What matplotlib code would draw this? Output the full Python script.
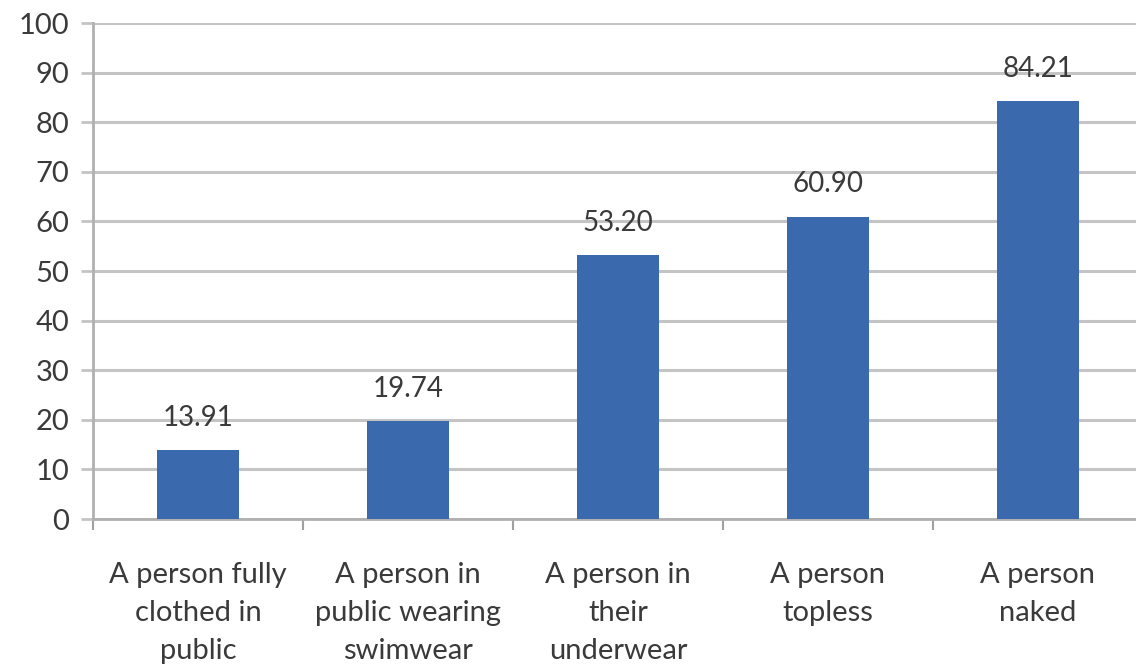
import matplotlib.pyplot as plt
from matplotlib.ticker import FixedLocator

categories = ['A person fully\nclothed in\npublic',
              'A person in\npublic wearing\nswimwear',
              'A person in\ntheir\nunderwear',
              'A person\ntopless',
              'A person\nnaked']
values = [13.91, 19.74, 53.20, 60.90, 84.21]
y_ticks = [0, 10, 20, 30, 40, 50, 60, 70, 80, 90, 100]

plt.rcParams['font.family'] = ['Lato', 'DejaVu Sans']

fig = plt.figure(figsize=(11.36, 6.69), dpi=100)
ax = fig.add_axes([93 / 1136, 150 / 669, 1050 / 1136, 496 / 669])

x = list(range(len(values)))
bars = ax.bar(x, values, width=0.395, color='#3A69AD', zorder=3)

for xi, v in zip(x, values):
    ax.annotate(f'{v:.2f}', (xi, v), xytext=(0, 14), textcoords='offset points',
                ha='center', va='bottom', fontsize=20, color='#3a3a3a')

ax.set_xlim(-0.5, len(values) - 0.5)
ax.set_ylim(0, 100)
ax.set_yticks(y_ticks)
ax.yaxis.grid(True, color='#C4C4C4', linewidth=2.2, zorder=0)

# category labels sit between boundary tick marks
ax.set_xticks(x)
ax.set_xticklabels(categories, fontsize=21, color='#3a3a3a', linespacing=1.58)
ax.tick_params(axis='x', which='major', length=0, pad=31)
ax.xaxis.set_minor_locator(FixedLocator([i - 0.5 for i in range(len(values) + 1)]))
ax.tick_params(axis='x', which='minor', length=8, width=1.5, color='#A0A0A0')

ax.tick_params(axis='y', length=9, width=2, color='#C4C4C4', labelsize=21,
               labelcolor='#3a3a3a', pad=8)

for side in ['top', 'right']:
    ax.spines[side].set_visible(False)
ax.spines['left'].set_color('#B0B0B0')
ax.spines['left'].set_linewidth(2)
ax.spines['bottom'].set_color('#B0B0B0')
ax.spines['bottom'].set_linewidth(2)

fig.savefig('out.png', dpi=100)
